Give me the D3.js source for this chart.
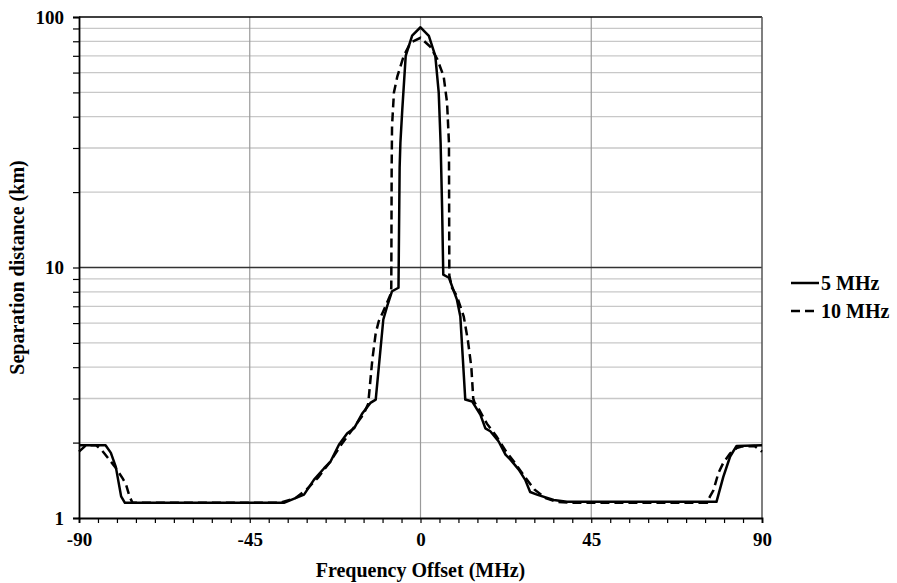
<!DOCTYPE html>
<html><head><meta charset="utf-8">
<script src="https://cdn.jsdelivr.net/npm/d3@7"></script>
<style>
body{margin:0;background:#fff;}
svg{display:block;}
text{font-family:"Liberation Serif","Times New Roman",serif;font-weight:bold;fill:#000;}
</style></head><body>
<svg id="c" width="897" height="583"></svg>
<script>
const seriesNames = ["5 MHz", "10 MHz"];
const xTickLabels = [-90, -45, 0, 45, 90];
const yTickLabels = [1, 10, 100];
const solid5 = [[-90,1.95],[-83,1.95],[-81.6,1.82],[-80.3,1.6],[-78.9,1.22],[-77.9,1.15],[-36,1.15],[-30.7,1.24],[-28.1,1.42],[-25.4,1.58],[-23.7,1.68],[-21.5,1.96],[-19.3,2.18],[-17.5,2.28],[-15.3,2.62],[-13.2,2.88],[-11.8,2.97],[-9.8,6.2],[-8.8,7.0],[-7.5,8.04],[-5.8,8.3],[-5.5,25],[-5.3,31.4],[-4.8,42.7],[-3.9,70],[-2.2,84.3],[0,91],[2.2,84],[3.9,70],[4.8,50],[5.3,31.4],[5.7,17.1],[6.0,9.37],[7.5,9.1],[9.6,7.44],[10.5,6.37],[11.8,2.97],[13.6,2.92],[15.8,2.58],[17.1,2.28],[18.4,2.22],[20.6,2.02],[22.4,1.79],[23.7,1.71],[25.9,1.56],[27.6,1.42],[28.9,1.27],[30.7,1.24],[35.1,1.18],[38.6,1.16],[78,1.16],[79.8,1.46],[81.6,1.76],[83.3,1.94],[90,1.95]];
const dashed10 = [[-90,1.84],[-88.2,1.95],[-85.5,1.95],[-84.2,1.88],[-83.3,1.81],[-80.5,1.6],[-78.5,1.44],[-77.6,1.36],[-76.7,1.22],[-75.9,1.15],[-37,1.15],[-33,1.2],[-30,1.3],[-27,1.45],[-24,1.66],[-21,1.95],[-18,2.25],[-15,2.6],[-13.8,2.85],[-13.6,3.06],[-12.7,4.28],[-11.8,5.47],[-11.0,6.1],[-9.6,6.8],[-7.9,7.8],[-7.7,8.3],[-7.6,25],[-7.5,36.7],[-7.0,50],[-6.1,58],[-4.4,70],[-2.6,79],[0,82.6],[2.6,76],[4.4,68],[6.1,58],[7.0,45.5],[7.5,31.4],[7.6,9.3],[8.3,8.3],[9.6,7.68],[11.4,6.37],[12.5,5.1],[13.4,4.0],[13.9,3.0],[14.2,2.9],[15.5,2.7],[17.5,2.38],[20,2.12],[22.5,1.85],[25,1.65],[27.5,1.46],[30,1.3],[33,1.2],[36,1.16],[40,1.15],[75.5,1.15],[76.3,1.22],[77.2,1.29],[78.5,1.51],[79.8,1.66],[81.6,1.81],[83.3,1.9],[84.6,1.93],[88,1.94],[90,1.84]];

const svg = d3.select("#c");
const L = 79, R = 762, T = 17, B = 518;
const x = d3.scaleLinear().domain([-90, 90]).range([L, R]);
const y = d3.scaleLog().domain([1, 100]).range([B, T]);

const minorY = [];
[1, 10].forEach(d => { for (let k = 2; k <= 9; k++) minorY.push(d * k); });
svg.append("g").selectAll("line").data(minorY).join("line")
  .attr("x1", L).attr("x2", R).attr("y1", d => y(d)).attr("y2", d => y(d))
  .attr("stroke", "#c8c8c8").attr("stroke-width", 1.3);
svg.append("g").selectAll("line").data([-45, 0, 45]).join("line")
  .attr("x1", d => x(d)).attr("x2", d => x(d)).attr("y1", T).attr("y2", B)
  .attr("stroke", "#9a9a9a").attr("stroke-width", 1.2);
svg.append("line").attr("x1", L).attr("x2", R).attr("y1", y(10)).attr("y2", y(10))
  .attr("stroke", "#333").attr("stroke-width", 1.3);
svg.append("line").attr("x1", L).attr("x2", R).attr("y1", T).attr("y2", T).attr("stroke", "#000").attr("stroke-width", 1.5);
svg.append("line").attr("x1", R).attr("x2", R).attr("y1", T).attr("y2", B).attr("stroke", "#555").attr("stroke-width", 1.5);

// x axis
const xTicks = d3.range(-90, 91, 5);
const xa = svg.append("g").attr("transform", `translate(0,${B})`)
  .call(d3.axisBottom(x).tickValues(xTicks).tickSize(5).tickFormat(d => xTickLabels.includes(d) ? d : ""));
xa.select(".domain").attr("stroke", "#000").attr("stroke-width", 1.8);
xa.selectAll(".tick line").attr("stroke", "#000").attr("stroke-width", 1.2);
xa.selectAll(".tick text").attr("font-size", 19).attr("y", 15).attr("dy", "0.71em")
  .attr("font-family", "Liberation Serif").attr("font-weight", "bold");

// y axis
const yTicks = [1].concat(minorY).concat([10, 100]).sort((a, b) => a - b);
const ya = svg.append("g").attr("transform", `translate(${L},0)`)
  .call(d3.axisLeft(y).tickValues(yTicks).tickSize(6).tickFormat(d => yTickLabels.includes(d) ? d : ""));
ya.select(".domain").attr("stroke", "#000").attr("stroke-width", 1.8);
ya.selectAll(".tick line").attr("stroke", "#000").attr("stroke-width", 1.2);
ya.selectAll(".tick text").attr("font-size", 19).attr("x", -15)
  .attr("font-family", "Liberation Serif").attr("font-weight", "bold");

// lines
const line = d3.line().x(d => x(d[0])).y(d => y(d[1]));
svg.append("path").datum(dashed10).attr("d", line).attr("fill", "none")
  .attr("stroke", "#000").attr("stroke-width", 2.5).attr("stroke-dasharray", "9,5");
svg.append("path").datum(solid5).attr("d", line).attr("fill", "none")
  .attr("stroke", "#000").attr("stroke-width", 2.5).attr("stroke-linejoin", "round");

// axis titles
svg.append("text").attr("x", (L + R) / 2).attr("y", 577).attr("text-anchor", "middle")
  .attr("font-size", 20).text("Frequency Offset (MHz)");
svg.append("text").attr("transform", `translate(24,${(T + B) / 2}) rotate(-90)`)
  .attr("text-anchor", "middle").attr("font-size", 20).text("Separation distance (km)");

// legend
const lg = svg.append("g");
const ly = [283, 311];
lg.append("line").attr("x1", 791).attr("x2", 819).attr("y1", ly[0]).attr("y2", ly[0]).attr("stroke", "#000").attr("stroke-width", 2.5);
lg.append("line").attr("x1", 791).attr("x2", 819).attr("y1", ly[1]).attr("y2", ly[1]).attr("stroke", "#000").attr("stroke-width", 2.5).attr("stroke-dasharray", "9,5");
seriesNames.forEach((n, i) => {
  lg.append("text").attr("x", 821).attr("y", ly[i]).attr("dy", "0.35em").attr("font-size", 20).text(n);
});
</script>
</body></html>
